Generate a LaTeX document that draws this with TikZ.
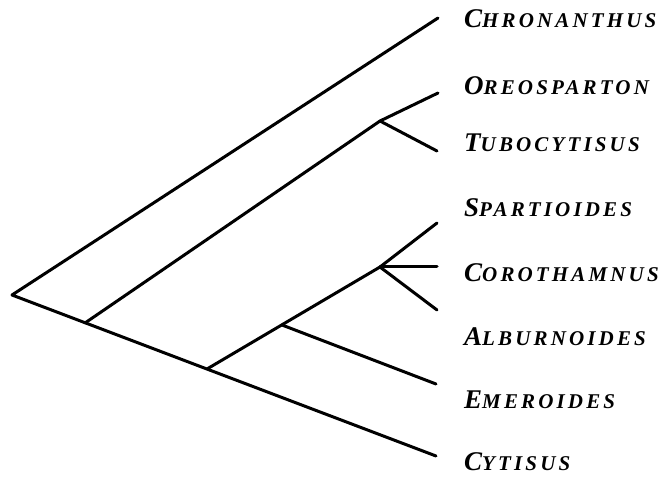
\documentclass[tikz,border=0pt]{standalone}
\usepackage{fontspec}
\setmainfont{Liberation Serif}
\newcommand\taxon[2]{{\fontsize{27}{27}\selectfont #1}{\fontsize{21}{21}\selectfont #2}}
\begin{document}
\begin{tikzpicture}[x=1pt,y=-1pt,
  branch/.style={line width=3pt,line cap=round,line join=round},
  lab/.style={anchor=base west,inner sep=0pt,font=\bfseries\itshape\addfontfeature{LetterSpace=15}}]
\useasboundingbox (0,0) rectangle (669,478);
% internal nodes
\coordinate (root) at (12,295);
\coordinate (n1) at (85,323);
\coordinate (n2) at (207,369);
\coordinate (n3) at (282,325);
\coordinate (n4) at (380,121);
\coordinate (n5) at (380,267);
% tips
\coordinate (chr) at (438,18);
\coordinate (ore) at (438,93);
\coordinate (tub) at (437,151);
\coordinate (spa) at (437,223);
\coordinate (cor) at (437,267);
\coordinate (alb) at (437,310);
\coordinate (eme) at (436,384);
\coordinate (cyt) at (436,456);
% branches
\draw[branch] (chr) -- (root) -- (cyt);
\draw[branch] (n1) -- (n4) -- (ore);
\draw[branch] (n4) -- (tub);
\draw[branch] (n2) -- (n5) -- (spa);
\draw[branch] (n5) -- (cor);
\draw[branch] (n5) -- (alb);
\draw[branch] (n3) -- (eme);
% labels
\node[lab] (lchr) at (464,28) {\taxon{C}{HRONANTHUS}};
\node[lab] (lore) at (464,95) {\taxon{O}{REOSPARTON}};
\node[lab] (ltub) at (464,152) {\taxon{T}{UBOCYTISUS}};
\node[lab] (lspa) at (464,217) {\taxon{S}{PARTIOIDES}};
\node[lab] (lcor) at (464,282) {\taxon{C}{OROTHAMNUS}};
\node[lab] (lalb) at (464,345) {\taxon{A}{LBURNOIDES}};
\node[lab] (leme) at (464,408) {\taxon{E}{MEROIDES}};
\node[lab] (lcyt) at (464,470) {\taxon{C}{YTISUS}};
\end{tikzpicture}
\end{document}
